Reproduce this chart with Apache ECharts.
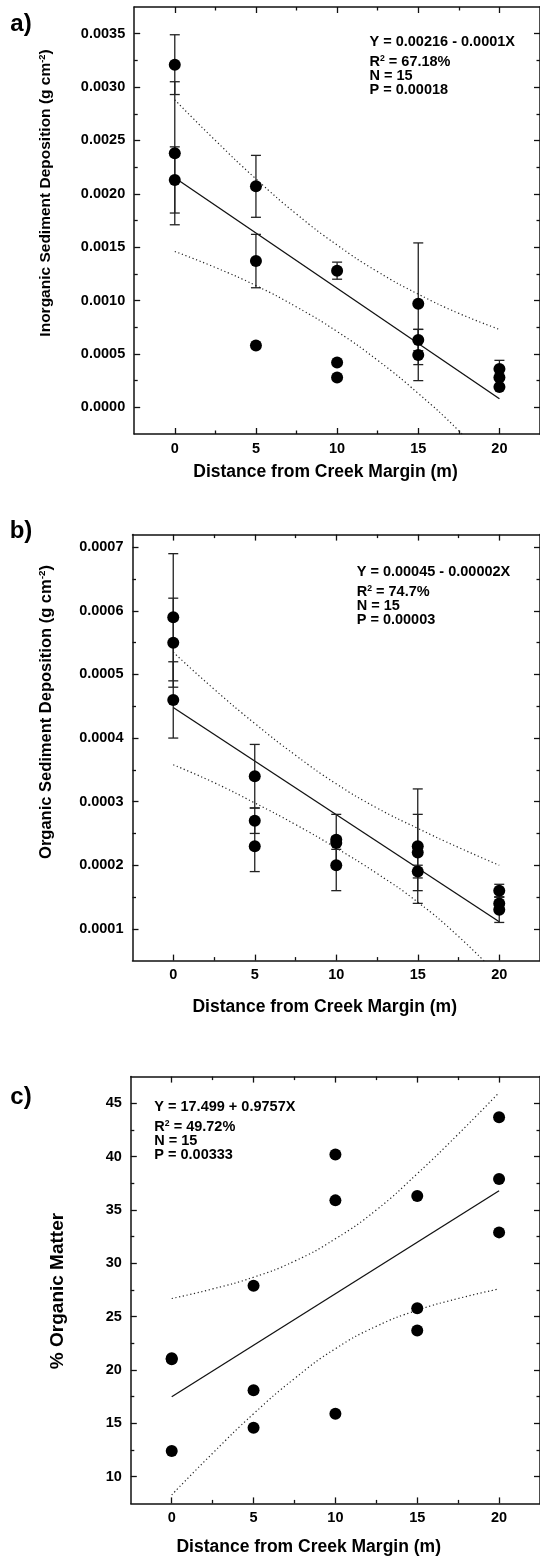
<!DOCTYPE html>
<html>
<head>
<meta charset="utf-8">
<script src="https://cdn.jsdelivr.net/npm/echarts@6/dist/echarts.min.js"></script>
<style>
  html, body { margin: 0; padding: 0; background: #fff; }
  #main { width: 540px; height: 1557px; }
</style>
</head>
<body>
<div id="main"></div>
<script>
// distance from creek margin (m), three cores per station
const distance = [0, 0, 0, 5, 5, 5, 10, 10, 10, 15, 15, 15, 20, 20, 20];
const distTicks = [0, 5, 10, 15, 20];
const distMinor = [2.5, 7.5, 12.5, 17.5];

// a) inorganic sediment deposition (g cm-2)
const inorg = [0.00321, 0.00238, 0.00213, 0.00207, 0.00137, 0.00058, 0.00128, 0.00042, 0.00028,
  0.00097, 0.00063, 0.00049, 0.00036, 0.00028, 0.00019];
const inorgErr = [0.00028, 0.00067, 0.00031, 0.00029, 0.00025, 0, 0.00008, 0, 0,
  0.00057, 0.0001, 0.00024, 0.00008, 0, 0];

// b) organic sediment deposition (g cm-2)
const organic = [0.00059, 0.00055, 0.00046, 0.00034, 0.00027, 0.00023, 0.00024, 0.000235, 0.0002,
  0.00023, 0.00022, 0.00019, 0.00016, 0.00014, 0.00013];
const organicErr = [0.0001, 0.00007, 0.00006, 0.00005, 0.00002, 0.00004, 0.00004, 0.00001, 0.00004,
  0.00009, 0.00006, 0.00001, 0.00001, 0.00001, 0.00002];

// c) % organic matter
const pctOM = [21.1, 21.0, 12.4, 27.9, 18.1, 14.6, 40.2, 35.9, 15.9, 36.3, 25.8, 23.7, 43.7, 37.9, 32.9];

// regression lines
const fitX = [0, 20];
const inorgFit = [0.00215, 0.00008];
const organicFit = [0.000448, 0.000111];
const pctFit = [17.5, 36.8];

// 95% confidence bands (dotted)
const bandX = [0, 2.5, 5, 7.5, 10, 12.5, 15, 17.5, 20];
const inorgUpper = [0.00288, 0.0025, 0.00214, 0.00181, 0.00152, 0.00127, 0.00106, 0.00088, 0.00073];
const inorgLower = [0.00146, 0.00131, 0.00114, 0.00094, 0.00071, 0.00044, 0.00013, -0.00022, -0.00062];
const organicUpper = [0.000535, 0.000477, 0.000423, 0.000373, 0.000328, 0.00029, 0.000258, 0.000228, 0.0002];
const organicLower = [0.000358, 0.00033, 0.000298, 0.000264, 0.000227, 0.000187, 0.000142, 0.000088, 0.000025];
const pctUpper = [26.7, 27.6, 28.7, 30.2, 32.3, 35.0, 38.4, 42.1, 46.0];
const pctLower = [8.3, 12.2, 15.9, 19.2, 22.0, 24.1, 25.6, 26.7, 27.6];

// y ticks
const inorgTicks = [0, 0.0005, 0.001, 0.0015, 0.002, 0.0025, 0.003, 0.0035];
const inorgMinor = [0.00025, 0.00075, 0.00125, 0.00175, 0.00225, 0.00275, 0.00325];
const organicTicks = [0.0001, 0.0002, 0.0003, 0.0004, 0.0005, 0.0006, 0.0007];
const organicMinor = [0.00015, 0.00025, 0.00035, 0.00045, 0.00055, 0.00065];
const pctTicks = [10, 15, 20, 25, 30, 35, 40, 45];
const pctMinor = [12.5, 17.5, 22.5, 27.5, 32.5, 37.5, 42.5];

// equation boxes
const eqA = ["Y = 0.00216 - 0.0001X", "R{s|2} = 67.18%", "N = 15", "P = 0.00018"];
const eqB = ["Y = 0.00045 - 0.00002X", "R{s|2} = 74.7%", "N = 15", "P = 0.00003"];
const eqC = ["Y = 17.499 + 0.9757X", "R{s|2} = 49.72%", "N = 15", "P = 0.00333"];

const FONT = '"Liberation Sans", Arial, Helvetica, sans-serif';
const BLACK = "#111";

const panels = [
  {
    grid: { left: 134.2, top: 7, width: 407.5, height: 427 },
    yMin: -0.00025, yMax: 0.00375, ticks: inorgTicks, minor: inorgMinor, fmt: (v) => v.toFixed(4),
    values: inorg, err: inorgErr, fit: inorgFit, upper: inorgUpper, lower: inorgLower,
  },
  {
    grid: { left: 132.5, top: 534.6, width: 408, height: 426 },
    yMin: 0.00005, yMax: 0.00072, ticks: organicTicks, minor: organicMinor, fmt: (v) => v.toFixed(4),
    values: organic, err: organicErr, fit: organicFit, upper: organicUpper, lower: organicLower,
  },
  {
    grid: { left: 130.8, top: 1076.6, width: 409.5, height: 426.8 },
    yMin: 7.5, yMax: 47.5, ticks: pctTicks, minor: pctMinor, fmt: (v) => String(Math.round(v)),
    values: pctOM, err: null, fit: pctFit, upper: pctUpper, lower: pctLower,
  },
];

const axisLine = { show: true, onZero: false, lineStyle: { color: BLACK, width: 1.5 } };
const noLine = { show: false, onZero: false };
const tickStyle = { color: BLACK, width: 1.3 };
const labelStyle = { color: "#000", fontFamily: FONT, fontWeight: "bold", fontSize: 14.5 };

function axisSet(g, min, max, ticks, minor, posMain, posOther, fmt, margin) {
  const base = { gridIndex: g, type: "value", min: min, max: max, splitLine: { show: false }, scale: true };
  return [
    Object.assign({}, base, {
      position: posMain, axisLine: axisLine,
      axisTick: { inside: true, length: 6, lineStyle: tickStyle, customValues: ticks },
      axisLabel: Object.assign({ customValues: ticks, margin: margin, formatter: fmt }, labelStyle),
    }),
    Object.assign({}, base, {
      position: posMain, axisLine: noLine,
      axisTick: { inside: true, length: 3.5, lineStyle: tickStyle, customValues: minor },
      axisLabel: { show: false },
    }),
    Object.assign({}, base, {
      position: posOther, axisLine: axisLine,
      axisTick: { inside: true, length: 6, lineStyle: tickStyle, customValues: ticks },
      axisLabel: { show: false },
    }),
    Object.assign({}, base, {
      position: posOther, axisLine: noLine,
      axisTick: { inside: true, length: 3.5, lineStyle: tickStyle, customValues: minor },
      axisLabel: { show: false },
    }),
  ];
}

function pairs(xs, ys) {
  return xs.map((x, i) => [x, ys[i]]);
}

const xAxis = [];
const yAxis = [];
const series = [];

panels.forEach((p, g) => {
  xAxis.push(...axisSet(g, -2.5, 22.5, distTicks, distMinor, "bottom", "top", (v) => String(v), 7));
  yAxis.push(...axisSet(g, p.yMin, p.yMax, p.ticks, p.minor, "left", "right", p.fmt, 9));
  const ax = { xAxisIndex: g * 4, yAxisIndex: g * 4 };

  [p.upper, p.lower].forEach((band) => {
    series.push(Object.assign({
      type: "line", data: pairs(bandX, band), symbol: "none", smooth: 0.5, clip: true,
      lineStyle: { color: "#222", width: 1.2, type: [1.2, 2.6] }, z: 2, silent: true,
    }, ax));
  });

  series.push(Object.assign({
    type: "line", data: pairs(fitX, p.fit), symbol: "none", clip: true,
    lineStyle: { color: BLACK, width: 1.3 }, z: 3, silent: true,
  }, ax));

  if (p.err) {
    const bars = [];
    distance.forEach((d, i) => {
      if (p.err[i] > 0) bars.push([d, p.values[i] - p.err[i], p.values[i] + p.err[i]]);
    });
    series.push(Object.assign({
      type: "custom", data: bars, z: 4, silent: true,
      encode: { x: 0, y: [1, 2] },
      renderItem: function (params, api) {
        const lo = api.coord([api.value(0), api.value(1)]);
        const hi = api.coord([api.value(0), api.value(2)]);
        const w = 5;
        const st = { stroke: "#222", lineWidth: 1.3 };
        return {
          type: "group",
          children: [
            { type: "line", shape: { x1: lo[0], y1: lo[1], x2: hi[0], y2: hi[1] }, style: st },
            { type: "line", shape: { x1: lo[0] - w, y1: lo[1], x2: lo[0] + w, y2: lo[1] }, style: st },
            { type: "line", shape: { x1: hi[0] - w, y1: hi[1], x2: hi[0] + w, y2: hi[1] }, style: st },
          ],
        };
      },
    }, ax));
  }

  series.push(Object.assign({
    type: "scatter", data: pairs(distance, p.values), symbol: "circle", symbolSize: 12,
    itemStyle: { color: "#000", opacity: 1 }, z: 5, silent: true,
  }, ax));
});

// text helpers
function txt(x, y, text, size, extra) {
  return Object.assign({
    type: "text", x: x, y: y, silent: true,
    style: Object.assign({
      text: text, fill: "#000", fontFamily: FONT, fontWeight: "bold", fontSize: size,
      align: "center", verticalAlign: "middle",
      rich: { s: { fontFamily: FONT, fontWeight: "bold", fontSize: size * 0.6, verticalAlign: "top", lineHeight: size * 0.62 } },
    }, extra || {}),
  });
}

function eqRows(x, y0, rows) {
  const offs = [0, 20, 34, 48];
  return rows.map((r, i) => txt(x, y0 + offs[i], r, 14.5, { align: "left" }));
}

const graphic = [
  txt(21, 24, "a)", 24),
  txt(21, 531, "b)", 24),
  txt(21, 1097, "c)", 24),
  Object.assign(txt(46, 193, "Inorganic Sediment Deposition (g cm{s|-2})", 15.5), { rotation: Math.PI / 2 }),
  Object.assign(txt(46, 712, "Organic Sediment Deposition (g cm{s|-2})", 16.5), { rotation: Math.PI / 2 }),
  Object.assign(txt(58, 1291, "% Organic Matter", 19), { rotation: Math.PI / 2 }),
  txt(325.5, 471.7, "Distance from Creek Margin (m)", 17.5),
  txt(324.7, 1006.7, "Distance from Creek Margin (m)", 17.5),
  txt(308.7, 1546.7, "Distance from Creek Margin (m)", 17.5),
  ...eqRows(369.5, 42, eqA),
  ...eqRows(356.7, 572, eqB),
  ...eqRows(154.3, 1107, eqC),
];

const chart = echarts.init(document.getElementById("main"), null, { renderer: "canvas" });
chart.setOption({
  backgroundColor: "#fff",
  animation: false,
  grid: panels.map((p) => Object.assign({ containLabel: false, show: false }, p.grid)),
  xAxis: xAxis,
  yAxis: yAxis,
  series: series,
  graphic: graphic,
});
</script>
</body>
</html>
